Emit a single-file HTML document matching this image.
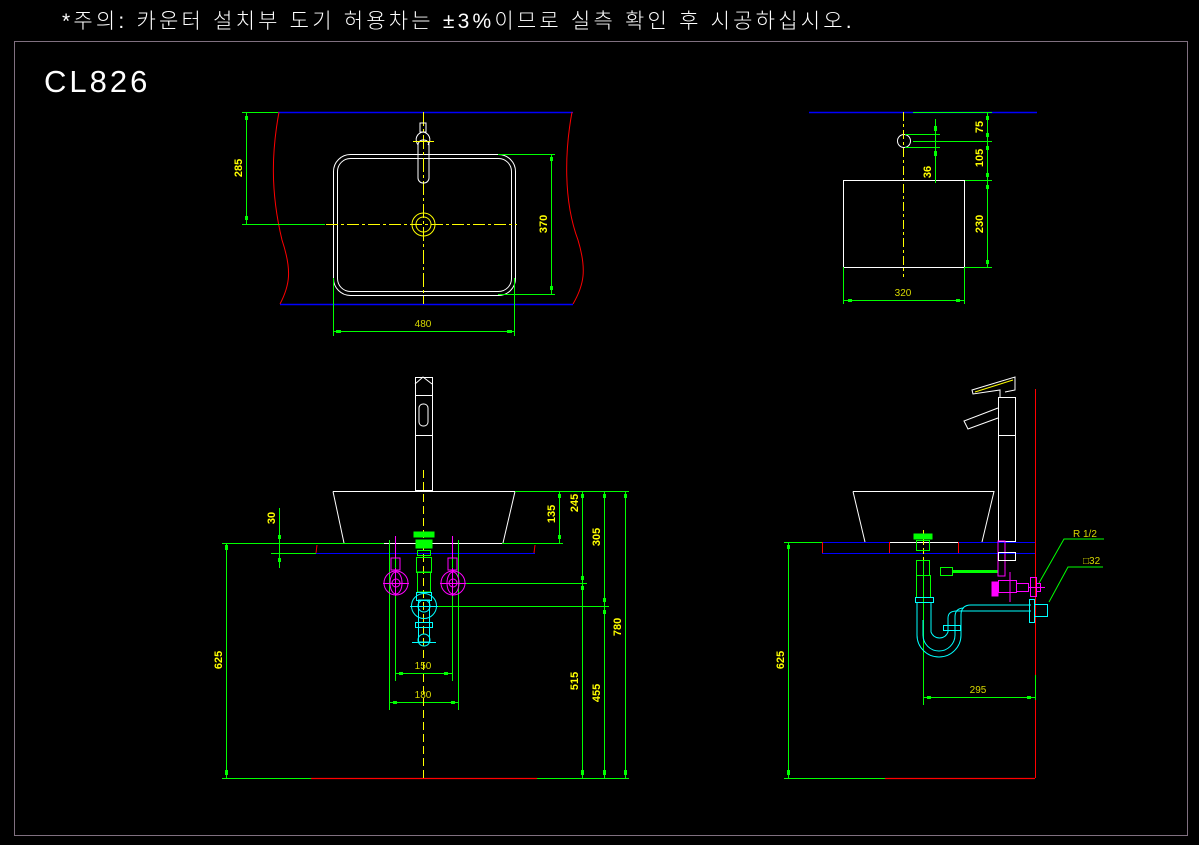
<!DOCTYPE html>
<html><head><meta charset="utf-8"><style>
html,body{margin:0;padding:0;background:#000;}
svg{display:block;}
.t{font-family:"Liberation Sans","Noto Sans CJK KR",sans-serif;}
.d{font-family:"Liberation Sans",sans-serif;font-size:11px;font-weight:bold;fill:#ffff00;}
.d2{font-family:"Liberation Sans",sans-serif;font-size:10px;fill:#d8d800;}
</style></head><body>
<svg width="1199" height="845" viewBox="0 0 1199 845" xmlns="http://www.w3.org/2000/svg">
<rect width="1199" height="845" fill="#000"/>
<text x="62" y="28" class="t" font-size="21" fill="#fff" letter-spacing="3.2" font-weight="300">*주의: 카운터 설치부 도기 허용차는 ±3%이므로 실측 확인 후 시공하십시오.</text>
<rect x="14.5" y="41.5" width="1173" height="794" fill="none" stroke="#807080" stroke-width="1"/>
<text x="44" y="92" class="t" font-size="31" fill="#fff" letter-spacing="3">CL826</text>

<!-- ===== top plan ===== -->
<g fill="none" stroke-width="1">
<line x1="278" y1="112.5" x2="573" y2="112.5" stroke="#0000ff" stroke-width="1.5"/>
<line x1="280" y1="304.5" x2="573" y2="304.5" stroke="#0000ff" stroke-width="1.5"/>
<path d="M279 112 C272 150,270 190,282 240 C292 270,290 285,280 304" stroke="#ff0000"/>
<path d="M572 112 C565 150,563 200,578 240 C587 270,584 285,573 304" stroke="#ff0000"/>
<rect x="333.5" y="154.5" width="182" height="141" rx="17" stroke="#fff"/>
<rect x="337.5" y="158.5" width="174" height="133" rx="13" stroke="#fff"/>
<line x1="242" y1="112.5" x2="278" y2="112.5" stroke="#00ff00"/>
<line x1="242" y1="224.5" x2="325" y2="224.5" stroke="#00ff00"/>
<line x1="246.5" y1="112" x2="246.5" y2="224" stroke="#00ff00"/>
<line x1="326" y1="224.5" x2="517" y2="224.5" stroke="#ffff00" stroke-dasharray="12,3,3,3"/>
<line x1="423.5" y1="112" x2="423.5" y2="304" stroke="#ffff00" stroke-dasharray="14,3,3,3"/>
<circle cx="423.5" cy="224.5" r="11.5" stroke="#ffff00"/>
<circle cx="423.5" cy="224.5" r="7.5" stroke="#ffff00"/>
<path d="M418 145 C414 139,417 133,423 132 C429 133,432 139,428 145" stroke="#fff"/>
<rect x="420" y="123" width="6" height="9" stroke="#fff"/>
<rect x="418" y="140" width="11" height="43" rx="5" stroke="#fff"/>
<line x1="413" y1="141.5" x2="434" y2="141.5" stroke="#ffff00"/>
<line x1="498" y1="154.5" x2="555" y2="154.5" stroke="#00ff00"/>
<line x1="498" y1="294.5" x2="555" y2="294.5" stroke="#00ff00"/>
<line x1="551.5" y1="154" x2="551.5" y2="295" stroke="#00ff00"/>
<line x1="333.5" y1="278" x2="333.5" y2="336" stroke="#00ff00"/>
<line x1="514.5" y1="278" x2="514.5" y2="336" stroke="#00ff00"/>
<line x1="333" y1="331.5" x2="515" y2="331.5" stroke="#00ff00"/>
</g>
<g fill="#00ff00">
<rect x="245" y="116" width="3" height="4"/><rect x="245" y="216" width="3" height="4"/>
<rect x="550" y="157" width="3" height="4"/><rect x="550" y="286" width="3" height="4"/>
<rect x="336" y="330" width="5" height="3"/><rect x="507" y="330" width="5" height="3"/>
</g>
<text class="d" transform="translate(242,168) rotate(-90)" text-anchor="middle">285</text>
<text class="d" transform="translate(547,224) rotate(-90)" text-anchor="middle">370</text>
<text class="d2" x="423" y="327" text-anchor="middle">480</text>

<!-- ===== side plan ===== -->
<g fill="none">
<line x1="809" y1="112.5" x2="1037" y2="112.5" stroke="#0000ff" stroke-width="1.5"/>
<line x1="913" y1="112.5" x2="992" y2="112.5" stroke="#00ff00"/>
<circle cx="904" cy="141" r="6.5" stroke="#fff"/>
<line x1="903.5" y1="112" x2="903.5" y2="277" stroke="#ffff00" stroke-dasharray="9,3,3,3"/>
<rect x="843.5" y="180.5" width="121" height="87" stroke="#fff"/>
<line x1="987.5" y1="112" x2="987.5" y2="267" stroke="#00ff00"/>
<line x1="913" y1="141.5" x2="992" y2="141.5" stroke="#00ff00"/>
<line x1="965" y1="180.5" x2="992" y2="180.5" stroke="#00ff00"/>
<line x1="965" y1="267.5" x2="992" y2="267.5" stroke="#00ff00"/>
<line x1="935.5" y1="119" x2="935.5" y2="183" stroke="#00ff00"/>
<line x1="905" y1="134.5" x2="940" y2="134.5" stroke="#00ff00"/>
<line x1="905" y1="147.5" x2="940" y2="147.5" stroke="#00ff00"/>
<line x1="843.5" y1="267" x2="843.5" y2="304" stroke="#00ff00"/>
<line x1="964.5" y1="267" x2="964.5" y2="304" stroke="#00ff00"/>
<line x1="843" y1="300.5" x2="965" y2="300.5" stroke="#00ff00"/>
</g>
<g fill="#00ff00">
<rect x="986" y="116" width="3" height="4"/><rect x="986" y="133" width="3" height="4"/><rect x="986" y="146" width="3" height="4"/><rect x="986" y="173" width="3" height="4"/><rect x="986" y="185" width="3" height="4"/><rect x="986" y="260" width="3" height="4"/>
<rect x="934" y="126" width="3" height="5"/><rect x="934" y="151" width="3" height="5"/>
<rect x="848" y="299" width="4" height="3"/><rect x="956" y="299" width="4" height="3"/>
</g>
<text class="d" transform="translate(983,127) rotate(-90)" text-anchor="middle">75</text>
<text class="d" transform="translate(983,158) rotate(-90)" text-anchor="middle">105</text>
<text class="d" transform="translate(983,224) rotate(-90)" text-anchor="middle">230</text>
<text class="d" transform="translate(931,172) rotate(-90)" text-anchor="middle">36</text>
<text class="d2" x="903" y="296" text-anchor="middle">320</text>

<!-- ===== front elevation ===== -->
<g fill="none">
<rect x="415.5" y="377.5" width="17" height="113" stroke="#fff"/>
<line x1="415" y1="395.5" x2="432" y2="395.5" stroke="#fff"/>
<line x1="415" y1="435.5" x2="432" y2="435.5" stroke="#fff"/>
<rect x="419" y="404" width="9" height="22" rx="4" stroke="#fff"/>
<path d="M415 384 L423 377 L432 384" stroke="#fff"/>
<path d="M333 491.5 L515 491.5 L503 543 M333 491.5 L344 543" stroke="#fff"/>
<line x1="222" y1="543.5" x2="563" y2="543.5" stroke="#00ff00"/>
<line x1="384" y1="543.5" x2="502" y2="543.5" stroke="#fff"/>
<line x1="316" y1="553.5" x2="535" y2="553.5" stroke="#0000ff"/>
<line x1="271" y1="553.5" x2="316" y2="553.5" stroke="#00ff00"/>
<path d="M317 545 L316 553 M535 545 L534 553" stroke="#ff0000"/>
<line x1="279.5" y1="508" x2="279.5" y2="568" stroke="#00ff00"/>
<line x1="226.5" y1="543" x2="226.5" y2="778" stroke="#00ff00"/>
<line x1="559.5" y1="491" x2="559.5" y2="543" stroke="#00ff00"/>
<line x1="582.5" y1="491" x2="582.5" y2="778" stroke="#00ff00"/>
<line x1="604.5" y1="491" x2="604.5" y2="778" stroke="#00ff00"/>
<line x1="625.5" y1="491" x2="625.5" y2="778" stroke="#00ff00"/>
<line x1="515" y1="491.5" x2="629" y2="491.5" stroke="#00ff00"/>
<line x1="222" y1="778.5" x2="629" y2="778.5" stroke="#00ff00"/>
<line x1="311" y1="778.5" x2="537" y2="778.5" stroke="#ff0000" stroke-width="1.3"/>
<line x1="460" y1="583.5" x2="587" y2="583.5" stroke="#00ff00"/>
<line x1="436" y1="606.5" x2="609" y2="606.5" stroke="#00ff00"/>
<line x1="389.5" y1="540" x2="389.5" y2="710" stroke="#00ff00"/>
<line x1="458.5" y1="540" x2="458.5" y2="710" stroke="#00ff00"/>
<line x1="395.5" y1="540" x2="395.5" y2="681" stroke="#00ff00"/>
<line x1="452.5" y1="540" x2="452.5" y2="681" stroke="#00ff00"/>
<line x1="395" y1="673.5" x2="452" y2="673.5" stroke="#00ff00"/>
<line x1="389" y1="702.5" x2="458" y2="702.5" stroke="#00ff00"/>
<line x1="423.5" y1="470" x2="423.5" y2="778" stroke="#ffff00" stroke-dasharray="8,4"/>
<rect x="414" y="532" width="20" height="5" fill="#00ff00" stroke="#00ff00"/>
<rect x="416" y="540" width="16" height="8" fill="#00ff00" stroke="#00ff00"/>
<rect x="416.5" y="557.5" width="15" height="15" stroke="#00ff00"/>
<rect x="417.5" y="550.5" width="13" height="5" stroke="#00ff00"/>
<rect x="417.5" y="572" width="13" height="20" stroke="#00ff00"/>
<circle cx="424" cy="606" r="12.5" stroke="#00ffff"/>
<circle cx="424" cy="606" r="6" stroke="#00ffff"/>
<rect x="416.5" y="592.5" width="15" height="8" stroke="#00ffff"/>
<rect x="418.5" y="600" width="11" height="42" stroke="#00ffff"/>
<rect x="415.5" y="622.5" width="17" height="5" stroke="#00ffff"/>
<circle cx="424" cy="640" r="6" stroke="#00ffff"/>
<line x1="412" y1="642.5" x2="436" y2="642.5" stroke="#00ffff"/>
<line x1="410" y1="606.5" x2="438" y2="606.5" stroke="#00ffff"/>
<g stroke="#ff00ff">
<circle cx="396" cy="583" r="12"/><ellipse cx="396" cy="583" rx="6" ry="11"/><circle cx="396" cy="583" r="4"/>
<line x1="383" y1="583.5" x2="409" y2="583.5"/><line x1="395.5" y1="568" x2="395.5" y2="596"/>
<rect x="391" y="558" width="9" height="12"/><line x1="395.5" y1="536" x2="395.5" y2="558"/>
<circle cx="453" cy="583" r="12"/><ellipse cx="453" cy="583" rx="6" ry="11"/><circle cx="453" cy="583" r="4"/>
<line x1="440" y1="583.5" x2="466" y2="583.5"/><line x1="452.5" y1="568" x2="452.5" y2="596"/>
<rect x="448" y="558" width="9" height="12"/><line x1="452.5" y1="536" x2="452.5" y2="558"/>
</g>
</g>
<g fill="#00ff00">
<rect x="278" y="535" width="3" height="4"/><rect x="278" y="558" width="3" height="4"/>
<rect x="225" y="545" width="3" height="5"/><rect x="225" y="770" width="3" height="5"/>
<rect x="558" y="494" width="3" height="4"/><rect x="558" y="535" width="3" height="4"/>
<rect x="581" y="494" width="3" height="4"/><rect x="581" y="576" width="3" height="4"/><rect x="581" y="586" width="3" height="4"/><rect x="581" y="770" width="3" height="5"/>
<rect x="603" y="494" width="3" height="4"/><rect x="603" y="598" width="3" height="4"/><rect x="603" y="610" width="3" height="4"/><rect x="603" y="770" width="3" height="5"/>
<rect x="624" y="494" width="3" height="4"/><rect x="624" y="770" width="3" height="5"/>
<rect x="399" y="672" width="4" height="3"/><rect x="444" y="672" width="4" height="3"/>
<rect x="393" y="701" width="4" height="3"/><rect x="451" y="701" width="4" height="3"/>
</g>
<text class="d" transform="translate(275,518) rotate(-90)" text-anchor="middle">30</text>
<text class="d" transform="translate(555,514) rotate(-90)" text-anchor="middle">135</text>
<text class="d" transform="translate(578,503) rotate(-90)" text-anchor="middle">245</text>
<text class="d" transform="translate(600,537) rotate(-90)" text-anchor="middle">305</text>
<text class="d" transform="translate(621,627) rotate(-90)" text-anchor="middle">780</text>
<text class="d" transform="translate(578,681) rotate(-90)" text-anchor="middle">515</text>
<text class="d" transform="translate(600,693) rotate(-90)" text-anchor="middle">455</text>
<text class="d" transform="translate(222,660) rotate(-90)" text-anchor="middle">625</text>
<text class="d2" x="423" y="669" text-anchor="middle">150</text>
<text class="d2" x="423" y="698" text-anchor="middle">180</text>

<!-- ===== side elevation ===== -->
<g fill="none">
<rect x="998.5" y="397.5" width="17" height="144" stroke="#fff"/>
<line x1="998" y1="435.5" x2="1015" y2="435.5" stroke="#fff"/>
<path d="M1000 397 L1000 390 L973 394 L972 390 L1015 377 L1015 390 L1005 392" stroke="#fff"/>
<line x1="975" y1="392" x2="1013" y2="380" stroke="#ffff00"/>
<path d="M998 408 L964 421 L968 429 L998 418" stroke="#fff"/>
<line x1="1035.5" y1="389" x2="1035.5" y2="778" stroke="#ff0000"/>
<path d="M853 491.5 L994 491.5 L982 542 M853 491.5 L865 542" stroke="#fff"/>
<line x1="822" y1="542.5" x2="1035" y2="542.5" stroke="#0000ff"/>
<line x1="889" y1="542.5" x2="958" y2="542.5" stroke="#fff"/>
<line x1="822" y1="553.5" x2="1035" y2="553.5" stroke="#0000ff"/>
<path d="M822.5 542 L822.5 553 M889.5 542 L889.5 553 M958.5 542 L958.5 553" stroke="#ff0000"/>
<line x1="784" y1="542.5" x2="822" y2="542.5" stroke="#00ff00"/>
<line x1="788.5" y1="542" x2="788.5" y2="778" stroke="#00ff00"/>
<line x1="784" y1="778.5" x2="885" y2="778.5" stroke="#00ff00"/>
<line x1="885" y1="778.5" x2="1035" y2="778.5" stroke="#ff0000" stroke-width="1.3"/>
<line x1="923.5" y1="557" x2="923.5" y2="705" stroke="#00ff00"/>
<line x1="1035.5" y1="675" x2="1035.5" y2="700" stroke="#00ff00"/>
<line x1="923" y1="697.5" x2="1035" y2="697.5" stroke="#00ff00"/>
<line x1="923.5" y1="530" x2="923.5" y2="560" stroke="#ffff00" stroke-dasharray="6,3"/>
<rect x="914" y="534" width="18" height="5" fill="#00ff00" stroke="#00ff00"/>
<rect x="916.5" y="540.5" width="13" height="10" stroke="#00ff00"/>
<rect x="916.5" y="560.5" width="13" height="15" stroke="#00ff00"/>
<rect x="916.5" y="575.5" width="14" height="22" stroke="#00ff00"/>
<rect x="940.5" y="567.5" width="12" height="8" stroke="#00ff00"/>
<line x1="953" y1="571.5" x2="998" y2="571.5" stroke="#00ff00" stroke-width="3"/>
<g stroke="#00ffff">
<rect x="915.5" y="597.5" width="18" height="5"/>
<path d="M917 602 L917 635 A22 22 0 0 0 961 635 L961 615 Q961 605 971 605 L1031 605"/>
<path d="M931 602 L931 632 A9 9 0 0 0 948 632 L948 618 Q948 611 957 611 L1031 611"/>
<path d="M923 620 L923 635 A16 16 0 0 0 955 635 L955 617 Q955 608 964 608"/>
<rect x="943.5" y="625.5" width="17" height="5"/>
<rect x="1029.5" y="599.5" width="5" height="23"/>
<rect x="1034.5" y="604.5" width="13" height="12"/>
</g>
<g stroke="#ff00ff">
<rect x="998" y="541" width="7" height="35"/>
<rect x="992" y="582" width="6" height="14" fill="#ff00ff"/>
<rect x="998.5" y="580.5" width="18" height="12"/>
<rect x="1016.5" y="583.5" width="12" height="8"/>
<line x1="1010" y1="572" x2="1010" y2="602"/>
<line x1="1028" y1="587.5" x2="1045" y2="587.5"/>
<rect x="1030.5" y="577.5" width="6" height="19"/>
<rect x="1036.5" y="583.5" width="4" height="8"/>
</g>
<rect x="998.5" y="552.5" width="17" height="8" stroke="#fff"/>
<path d="M1039 583 L1064 539 L1104 539" stroke="#00ff00"/>
<path d="M1049 602 L1068 567 L1103 567" stroke="#00ff00"/>
</g>
<g fill="#00ff00">
<rect x="787" y="545" width="3" height="4"/><rect x="787" y="770" width="3" height="5"/>
<rect x="927" y="696" width="4" height="3"/><rect x="1027" y="696" width="4" height="3"/>
</g>
<text class="d" transform="translate(784,660) rotate(-90)" text-anchor="middle">625</text>
<text class="d2" x="978" y="693" text-anchor="middle">295</text>
<text class="d2" x="1073" y="537">R 1/2</text>
<text class="d2" x="1083" y="564">□32</text>
</svg>
</body></html>
